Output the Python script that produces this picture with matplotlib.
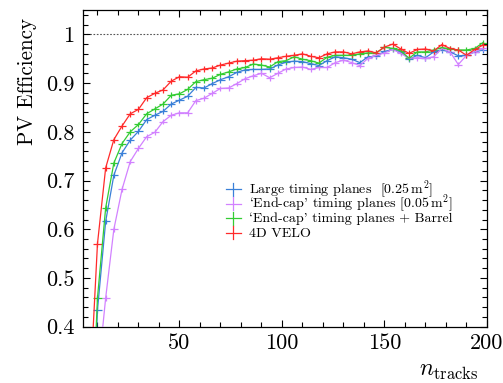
import matplotlib
matplotlib.use("Agg")
import matplotlib.pyplot as plt
from matplotlib.ticker import MultipleLocator, FuncFormatter

plt.rcParams['font.family'] = ['cmr10', 'DejaVu Serif']
plt.rcParams['mathtext.fontset'] = 'cm'
plt.rcParams['axes.formatter.use_mathtext'] = True

n_tracks = [6, 10, 14, 18, 22, 26, 30, 34, 38, 42, 46, 50, 54, 58, 62, 66, 70, 74, 78, 82,
            86, 90, 94, 98, 102, 106, 110, 114, 118, 122, 126, 130, 134, 138, 142, 146, 150,
            154, 158, 162, 166, 170, 174, 178, 182, 186, 190, 194, 198]

eff_large = [0.02, 0.434, 0.616, 0.711, 0.757, 0.783, 0.801, 0.825, 0.834, 0.842, 0.857, 0.865,
             0.873, 0.891, 0.890, 0.899, 0.907, 0.913, 0.922, 0.927, 0.928, 0.928, 0.929, 0.937,
             0.943, 0.945, 0.944, 0.940, 0.936, 0.946, 0.954, 0.952, 0.949, 0.942, 0.954, 0.955,
             0.965, 0.969, 0.964, 0.949, 0.957, 0.952, 0.964, 0.968, 0.964, 0.956, 0.957, 0.964,
             0.968]
eff_endcap = [0.05, 0.29, 0.459, 0.600, 0.682, 0.739, 0.766, 0.790, 0.799, 0.821, 0.834, 0.839,
              0.839, 0.864, 0.869, 0.879, 0.889, 0.890, 0.899, 0.909, 0.915, 0.920, 0.911, 0.920,
              0.929, 0.932, 0.933, 0.928, 0.932, 0.932, 0.942, 0.947, 0.942, 0.936, 0.951, 0.957,
              0.962, 0.969, 0.961, 0.951, 0.952, 0.951, 0.954, 0.971, 0.964, 0.938, 0.957, 0.964,
              0.971]
eff_barrel = [0.06, 0.459, 0.644, 0.736, 0.776, 0.800, 0.815, 0.837, 0.847, 0.857, 0.875, 0.878,
              0.887, 0.903, 0.907, 0.910, 0.918, 0.923, 0.929, 0.932, 0.939, 0.937, 0.933, 0.944,
              0.946, 0.954, 0.949, 0.946, 0.941, 0.953, 0.957, 0.957, 0.957, 0.960, 0.962, 0.962,
              0.974, 0.971, 0.966, 0.951, 0.964, 0.964, 0.968, 0.973, 0.970, 0.968, 0.968, 0.971,
              0.983]
eff_velo = [0.24, 0.570, 0.726, 0.784, 0.812, 0.837, 0.846, 0.870, 0.879, 0.886, 0.904, 0.913,
            0.912, 0.925, 0.929, 0.931, 0.937, 0.941, 0.945, 0.946, 0.947, 0.950, 0.949, 0.952,
            0.955, 0.957, 0.960, 0.955, 0.952, 0.960, 0.964, 0.964, 0.960, 0.964, 0.966, 0.962,
            0.974, 0.980, 0.970, 0.961, 0.969, 0.970, 0.966, 0.979, 0.971, 0.968, 0.957, 0.969,
            0.978]

labels = [r"Large timing planes  [0.25$\,$m$^2$]",
          r"`End-cap' timing planes [0.05$\,$m$^2$]",
          r"`End-cap' timing planes + Barrel",
          r"4D VELO"]
series = [eff_large, eff_endcap, eff_barrel, eff_velo]
colors = ['#3a80d8', '#d282ff', '#33cc33', '#ff2a2a']
bin_half = 2.0
y_err = 0.006

fig = plt.figure(figsize=(5.03, 3.83), dpi=100)
W, H = 503.0, 383.0
ax_l, ax_r, ax_t, ax_b = 82.7, 487.0, 10.0, 326.7
ax = fig.add_axes([ax_l/W, 1-ax_b/H, (ax_r-ax_l)/W, (ax_b-ax_t)/H])

ax.axhline(1.0, color='#555555', lw=0.8, ls=(0, (1.5, 1.5)), zorder=1)

for y, c in zip(series, colors):
    ax.errorbar(n_tracks, y, xerr=bin_half, yerr=y_err, fmt='-', color=c, lw=0.9,
                elinewidth=0.9, capsize=0, zorder=3)

ax.set_xlim(2.8, 200)
ax.set_ylim(0.4, 1.05)
ax.xaxis.set_major_locator(MultipleLocator(50))
ax.xaxis.set_minor_locator(MultipleLocator(10))
ax.yaxis.set_major_locator(MultipleLocator(0.1))
ax.yaxis.set_minor_locator(MultipleLocator(0.02))
fmt = FuncFormatter(lambda v, p: f"{v:g}")
ax.xaxis.set_major_formatter(fmt)
ax.yaxis.set_major_formatter(fmt)
ax.tick_params(which='both', direction='in', top=True, right=True, labelsize=16, width=0.8)
ax.tick_params(which='major', length=5.2)
ax.tick_params(which='minor', length=3.3)
ax.tick_params(axis='x', which='major', pad=5)
ax.tick_params(axis='y', which='major', pad=6)
for s in ax.spines.values():
    s.set_linewidth(0.9)

ax.set_ylabel("PV Efficiency", fontsize=15.2, loc='top')
ax.yaxis.set_label_coords(-0.113, 0.975)
ax.set_xlabel(r"$n_{\mathrm{tracks}}$", fontsize=17, loc='right')
ax.xaxis.set_label_coords(0.978, -0.105)

# legend drawn manually (ROOT style: cross handles, uniform row spacing)
def to_ax(px, py):
    return (px - ax_l) / (ax_r - ax_l), (ax_b - py) / (ax_b - ax_t)

row0, drow = 189.0, 14.5
for i, (c, lab) in enumerate(zip(colors, labels)):
    py = row0 + i * drow
    x0, yc = to_ax(225.5, py)
    x1, _ = to_ax(240.5, py)
    xm, _ = to_ax(233.0, py)
    _, ylo = to_ax(0, py + 6.5)
    _, yhi = to_ax(0, py - 6.5)
    ax.plot([x0, x1], [yc, yc], color=c, lw=0.9, transform=ax.transAxes, clip_on=False)
    ax.plot([xm, xm], [ylo, yhi], color=c, lw=0.9, transform=ax.transAxes, clip_on=False)
    xt, yb = to_ax(249.3, py + 4.3)
    ax.text(xt, yb, lab, transform=ax.transAxes, fontsize=10.1, ha='left', va='baseline')

fig.savefig("out.png", dpi=100)
